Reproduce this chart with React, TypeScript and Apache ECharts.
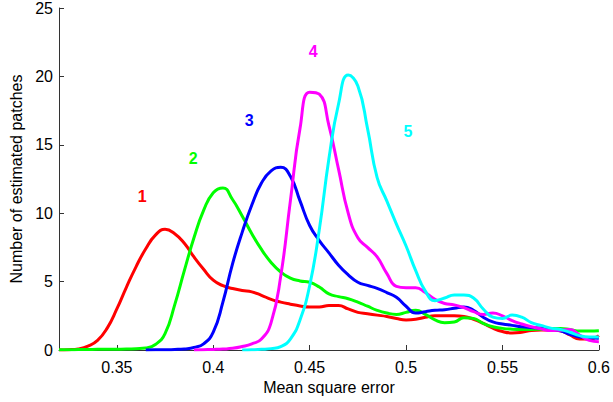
import React, { useEffect, useRef } from "react";
import * as echarts from "echarts";

const xValues: number[] = [];
for (let i = 0; i <= 56; i++) xValues.push(Math.round((0.32 + i * 0.005) * 1000) / 1000);

const curve1 = [0, 0.02, 0.08, 0.28, 0.7, 1.6, 3.0, 4.6, 6.1, 7.4, 8.4, 8.82, 8.5, 7.8, 6.8, 5.9, 5.1, 4.7, 4.5, 4.35, 4.25, 4.0, 3.7, 3.5, 3.35, 3.22, 3.15, 3.15, 3.25, 3.25, 3.0, 2.75, 2.65, 2.55, 2.45, 2.3, 2.2, 2.25, 2.4, 2.5, 2.5, 2.5, 2.45, 2.25, 1.95, 1.6, 1.35, 1.25, 1.3, 1.42, 1.46, 1.46, 1.4, 1.1, 0.8, 0.8, 1.05];
const curve2 = [0.02, 0.02, 0.03, 0.04, 0.05, 0.05, 0.06, 0.07, 0.1, 0.15, 0.4, 1.2, 3.3, 5.8, 8.2, 10.2, 11.5, 11.85, 11.0, 9.8, 8.5, 7.35, 6.4, 5.7, 5.25, 5.05, 4.95, 4.6, 4.1, 3.9, 3.75, 3.5, 3.2, 2.9, 2.7, 2.6, 2.75, 2.9, 2.6, 2.2, 2.0, 2.05, 2.35, 2.3, 1.95, 1.7, 1.58, 1.52, 1.5, 1.5, 1.52, 1.55, 1.58, 1.5, 1.38, 1.38, 1.4];
const curve3 = [null, null, null, null, null, null, null, null, null, 0, 0.01, 0.02, 0.04, 0.08, 0.18, 0.45, 1.3, 3.5, 6.3, 8.6, 10.6, 12.2, 13.1, 13.35, 12.7, 10.9, 9.1, 8.0, 7.1, 6.2, 5.5, 4.95, 4.72, 4.5, 4.2, 3.85, 3.2, 2.7, 2.8, 2.9, 2.95, 3.05, 3.15, 2.9, 2.4, 2.05, 1.9, 1.8, 1.7, 1.65, 1.6, 1.5, 1.4, 1.15, 0.95, 0.9, 0.85];
const curve4 = [null, null, null, null, null, null, null, null, null, null, null, null, null, null, 0, 0.02, 0.04, 0.07, 0.12, 0.25, 0.45, 0.8, 2.0, 5.4, 10.9, 16.2, 18.85, 18.7, 16.4, 13.2, 10.0, 8.2, 7.5, 6.8, 5.6, 4.65, 4.55, 4.55, 4.2, 3.7, 3.4, 3.3, 3.1, 2.8, 2.6, 2.7, 2.5, 2.15, 1.9, 1.7, 1.55, 1.42, 1.45, 1.5, 1.1, 0.7, 0.6];
const curve5 = [null, null, null, null, null, null, null, null, null, null, null, null, null, null, null, null, null, null, null, 0, 0.02, 0.05, 0.1, 0.25, 0.8, 2.2, 4.7, 8.8, 14.0, 18.0, 20.1, 19.3, 16.2, 12.6, 10.9, 9.2, 7.6, 5.8, 4.3, 3.6, 3.8, 4.02, 4.02, 3.8, 3.0, 2.4, 2.3, 2.55, 2.4, 2.0, 1.8, 1.6, 1.5, 1.3, 1.05, 0.95, 0.95];

const seriesCurves = [curve1, curve2, curve3, curve4, curve5];
const seriesColors = ["#ff0000", "#00ff00", "#0000ff", "#ff00ff", "#00ffff"];
const labelTexts = ["1", "2", "3", "4", "5"];
const labelX = [0.3632, 0.3896, 0.4187, 0.4519, 0.501];
const labelY = [11.2, 14.0, 16.8, 21.8, 15.95];

const xTicks = [0.35, 0.4, 0.45, 0.5, 0.55, 0.6];

const FONT = "'Liberation Sans', Arial, Helvetica, sans-serif";

export default function App() {
  const ref = useRef<HTMLDivElement>(null);
  useEffect(() => {
    if (!ref.current) return;
    const chart = echarts.init(ref.current, null, { renderer: "svg" });
    chart.setOption({
      animation: false,
      backgroundColor: "#ffffff",
      grid: { left: 58, right: 13, top: 8, bottom: 52, containLabel: false },
      xAxis: {
        type: "value",
        min: 0.32,
        max: 0.6,
        name: "Mean square error",
        nameLocation: "middle",
        nameGap: 29,
        nameTextStyle: { fontFamily: FONT, fontSize: 16, color: "#000" },
        axisLine: { show: true, onZero: false, lineStyle: { color: "#333", width: 1 } },
        axisTick: { show: true, inside: true, length: 5, customValues: xTicks, lineStyle: { color: "#333" } },
        axisLabel: {
          show: true,
          customValues: xTicks,
          margin: 9,
          fontFamily: FONT,
          fontSize: 16,
          color: "#000",
          formatter: (v: number) => String(v),
        },
        splitLine: { show: false },
      },
      yAxis: {
        type: "value",
        min: 0,
        max: 25,
        interval: 5,
        name: "Number of estimated patches",
        nameLocation: "middle",
        nameGap: 35,
        nameTextStyle: { fontFamily: FONT, fontSize: 16, color: "#000" },
        axisLine: { show: true, lineStyle: { color: "#333", width: 1 } },
        axisTick: { show: true, inside: true, length: 5, lineStyle: { color: "#333" } },
        axisLabel: { margin: 6, fontFamily: FONT, fontSize: 16, color: "#000" },
        splitLine: { show: false },
      },
      series: seriesCurves.map((curve, i) => ({
        type: "line",
        data: xValues.map((x, j) => [x, curve[j]]),
        smooth: 0.5,
        showSymbol: false,
        connectNulls: false,
        lineStyle: { color: seriesColors[i], width: 3 },
        itemStyle: { color: seriesColors[i] },
        markPoint: {
          symbol: "circle",
          symbolSize: 0,
          data: [
            {
              coord: [labelX[i], labelY[i]],
              value: labelTexts[i],
            },
          ],
          label: {
            show: true,
            position: "inside",
            formatter: labelTexts[i],
            color: seriesColors[i],
            fontFamily: FONT,
            fontWeight: "bold",
            fontSize: 16,
          },
        },
      })),
    });
    return () => chart.dispose();
  }, []);
  return (
    <div
      ref={ref}
      style={{ position: "fixed", left: 0, top: 0, width: 613, height: 402 }}
    />
  );
}
